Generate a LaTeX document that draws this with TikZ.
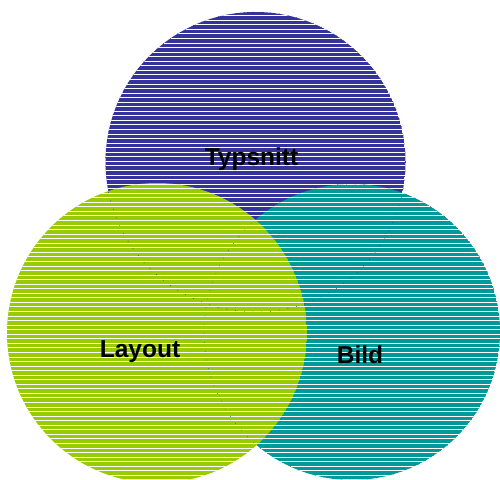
\documentclass[tikz,border=0pt]{standalone}
\usepackage{fontspec}
\setmainfont{Liberation Sans}
\definecolor{cpurple}{HTML}{333399}
\definecolor{cgreen}{HTML}{99CC00}
\definecolor{cteal}{HTML}{009999}
\tikzset{
  lbl/.style={font=\fontsize{24.5}{28}\selectfont\bfseries, text=black, inner sep=0pt},
  ghost/.style={line width=0.5pt, dash pattern=on 0.8pt off 8pt},
}
\newcommand{\hatchcircle}[4]{%
  \begin{scope}
    \clip (#1,#2) circle (#3);
    \fill[#4] (#1,#2) circle (#3);
    \foreach \k in {0,...,108} {
      \draw[white, line width=0.8pt] (0,-\k*4.55-2) -- (500,-\k*4.55-2);
    }
  \end{scope}}
\begin{document}
\begin{tikzpicture}[x=1pt,y=1pt]
\useasboundingbox (0,0) rectangle (500,-479);
\hatchcircle{255.5}{-162}{150}{cpurple}
\hatchcircle{352}{-332}{148}{cteal}
\hatchcircle{157}{-333}{150}{cgreen}
\draw[ghost, cpurple!80!black] (255.5,-162) circle (150);
\draw[ghost, cteal!80!black] (352,-332) circle (148);
\node[lbl, anchor=base] (typ) at (251.5,-165) {Typsnitt};
\node[lbl, anchor=base] (lay) at (140,-357) {Layout};
\node[lbl, anchor=base] (bild) at (360,-363) {Bild};
\end{tikzpicture}
\end{document}
